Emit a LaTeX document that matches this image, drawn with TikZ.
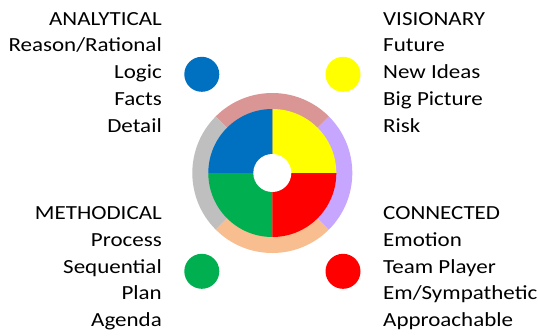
\documentclass[tikz,border=0pt]{standalone}
\usepackage{fontspec}
\setmainfont{Carlito}[FakeStretch=1.15]
\definecolor{quadblue}{HTML}{0070C0}
\definecolor{quadyellow}{HTML}{FFFF00}
\definecolor{quadgreen}{HTML}{00B050}
\definecolor{quadred}{HTML}{FF0000}
\definecolor{ringrose}{HTML}{D99694}
\definecolor{ringgray}{HTML}{BFBFBF}
\definecolor{ringlilac}{HTML}{C6A6FF}
\definecolor{ringpeach}{HTML}{F9BE8F}
\begin{document}
\begin{tikzpicture}[x=1pt,y=-1pt,
      lbl/.style={inner sep=0pt,font=\fontsize{20}{24}\selectfont},
      dot/.style={circle,inner sep=0pt,minimum width=35pt,minimum height=33pt}]
    \useasboundingbox (0,0) rectangle (538,335);
    % wheel
    \begin{scope}[shift={(272.3,173)},y=1pt]
      \fill[ringrose]  (0,0) -- (45:80)  arc[start angle=45,end angle=135,radius=80] -- cycle;
      \fill[ringgray]  (0,0) -- (135:80) arc[start angle=135,end angle=225,radius=80] -- cycle;
      \fill[ringpeach] (0,0) -- (225:80) arc[start angle=225,end angle=315,radius=80] -- cycle;
      \fill[ringlilac] (0,0) -- (-45:80) arc[start angle=-45,end angle=45,radius=80] -- cycle;
      \fill[quadyellow] (0,0) -- (0:64)   arc[start angle=0,end angle=90,radius=64] -- cycle;
      \fill[quadblue]   (0,0) -- (90:64)  arc[start angle=90,end angle=180,radius=64] -- cycle;
      \fill[quadgreen]  (0,0) -- (180:64) arc[start angle=180,end angle=270,radius=64] -- cycle;
      \fill[quadred]    (0,0) -- (270:64) arc[start angle=270,end angle=360,radius=64] -- cycle;
      \fill[white] (0,0) circle[radius=19];
    \end{scope}
    % dots
    \node[dot,fill=quadblue]   (analyticdot) at (201.8,74.3)  {};
    \node[dot,fill=quadyellow] (visiondot)   at (343,74.3)    {};
    \node[dot,fill=quadgreen]  (methoddot)   at (201.8,271.3) {};
    \node[dot,fill=quadred]    (connectdot)  at (343,271.3)   {};
    % top left
    \node[lbl,anchor=base east] (analytical) at (162,25)    {ANALYTICAL};
    \node[lbl,anchor=base east] (reason)     at (162,51.8)  {Reason/Rational};
    \node[lbl,anchor=base east] (logic)      at (162,78.6)  {Logic};
    \node[lbl,anchor=base east] (facts)      at (162,105.4) {Facts};
    \node[lbl,anchor=base east] (detail)     at (162,132.2) {Detail};
    % top right
    \node[lbl,anchor=base west] (visionary)  at (383,25)    {VISIONARY};
    \node[lbl,anchor=base west] (future)     at (383,51.8)  {Future};
    \node[lbl,anchor=base west] (newideas)   at (383,78.6)  {New Ideas};
    \node[lbl,anchor=base west] (bigpicture) at (383,105.4) {Big Picture};
    \node[lbl,anchor=base west] (risk)       at (383,132.2) {Risk};
    % bottom left
    \node[lbl,anchor=base east] (methodical) at (162,219.5) {METHODICAL};
    \node[lbl,anchor=base east] (process)    at (162,246.3) {Process};
    \node[lbl,anchor=base east] (sequential) at (162,273.1) {Sequential};
    \node[lbl,anchor=base east] (plan)       at (162,299.9) {Plan};
    \node[lbl,anchor=base east] (agenda)     at (162,326.7) {Agenda};
    % bottom right
    \node[lbl,anchor=base west] (connected)  at (383,219.5) {CONNECTED};
    \node[lbl,anchor=base west] (emotion)    at (383,246.3) {Emotion};
    \node[lbl,anchor=base west] (teamplayer) at (383,273.1) {Team Player};
    \node[lbl,anchor=base west] (sympathy)   at (383,299.9) {Em/Sympathetic};
    \node[lbl,anchor=base west] (approach)   at (383,326.7) {Approachable};
  \end{tikzpicture}
\end{document}
